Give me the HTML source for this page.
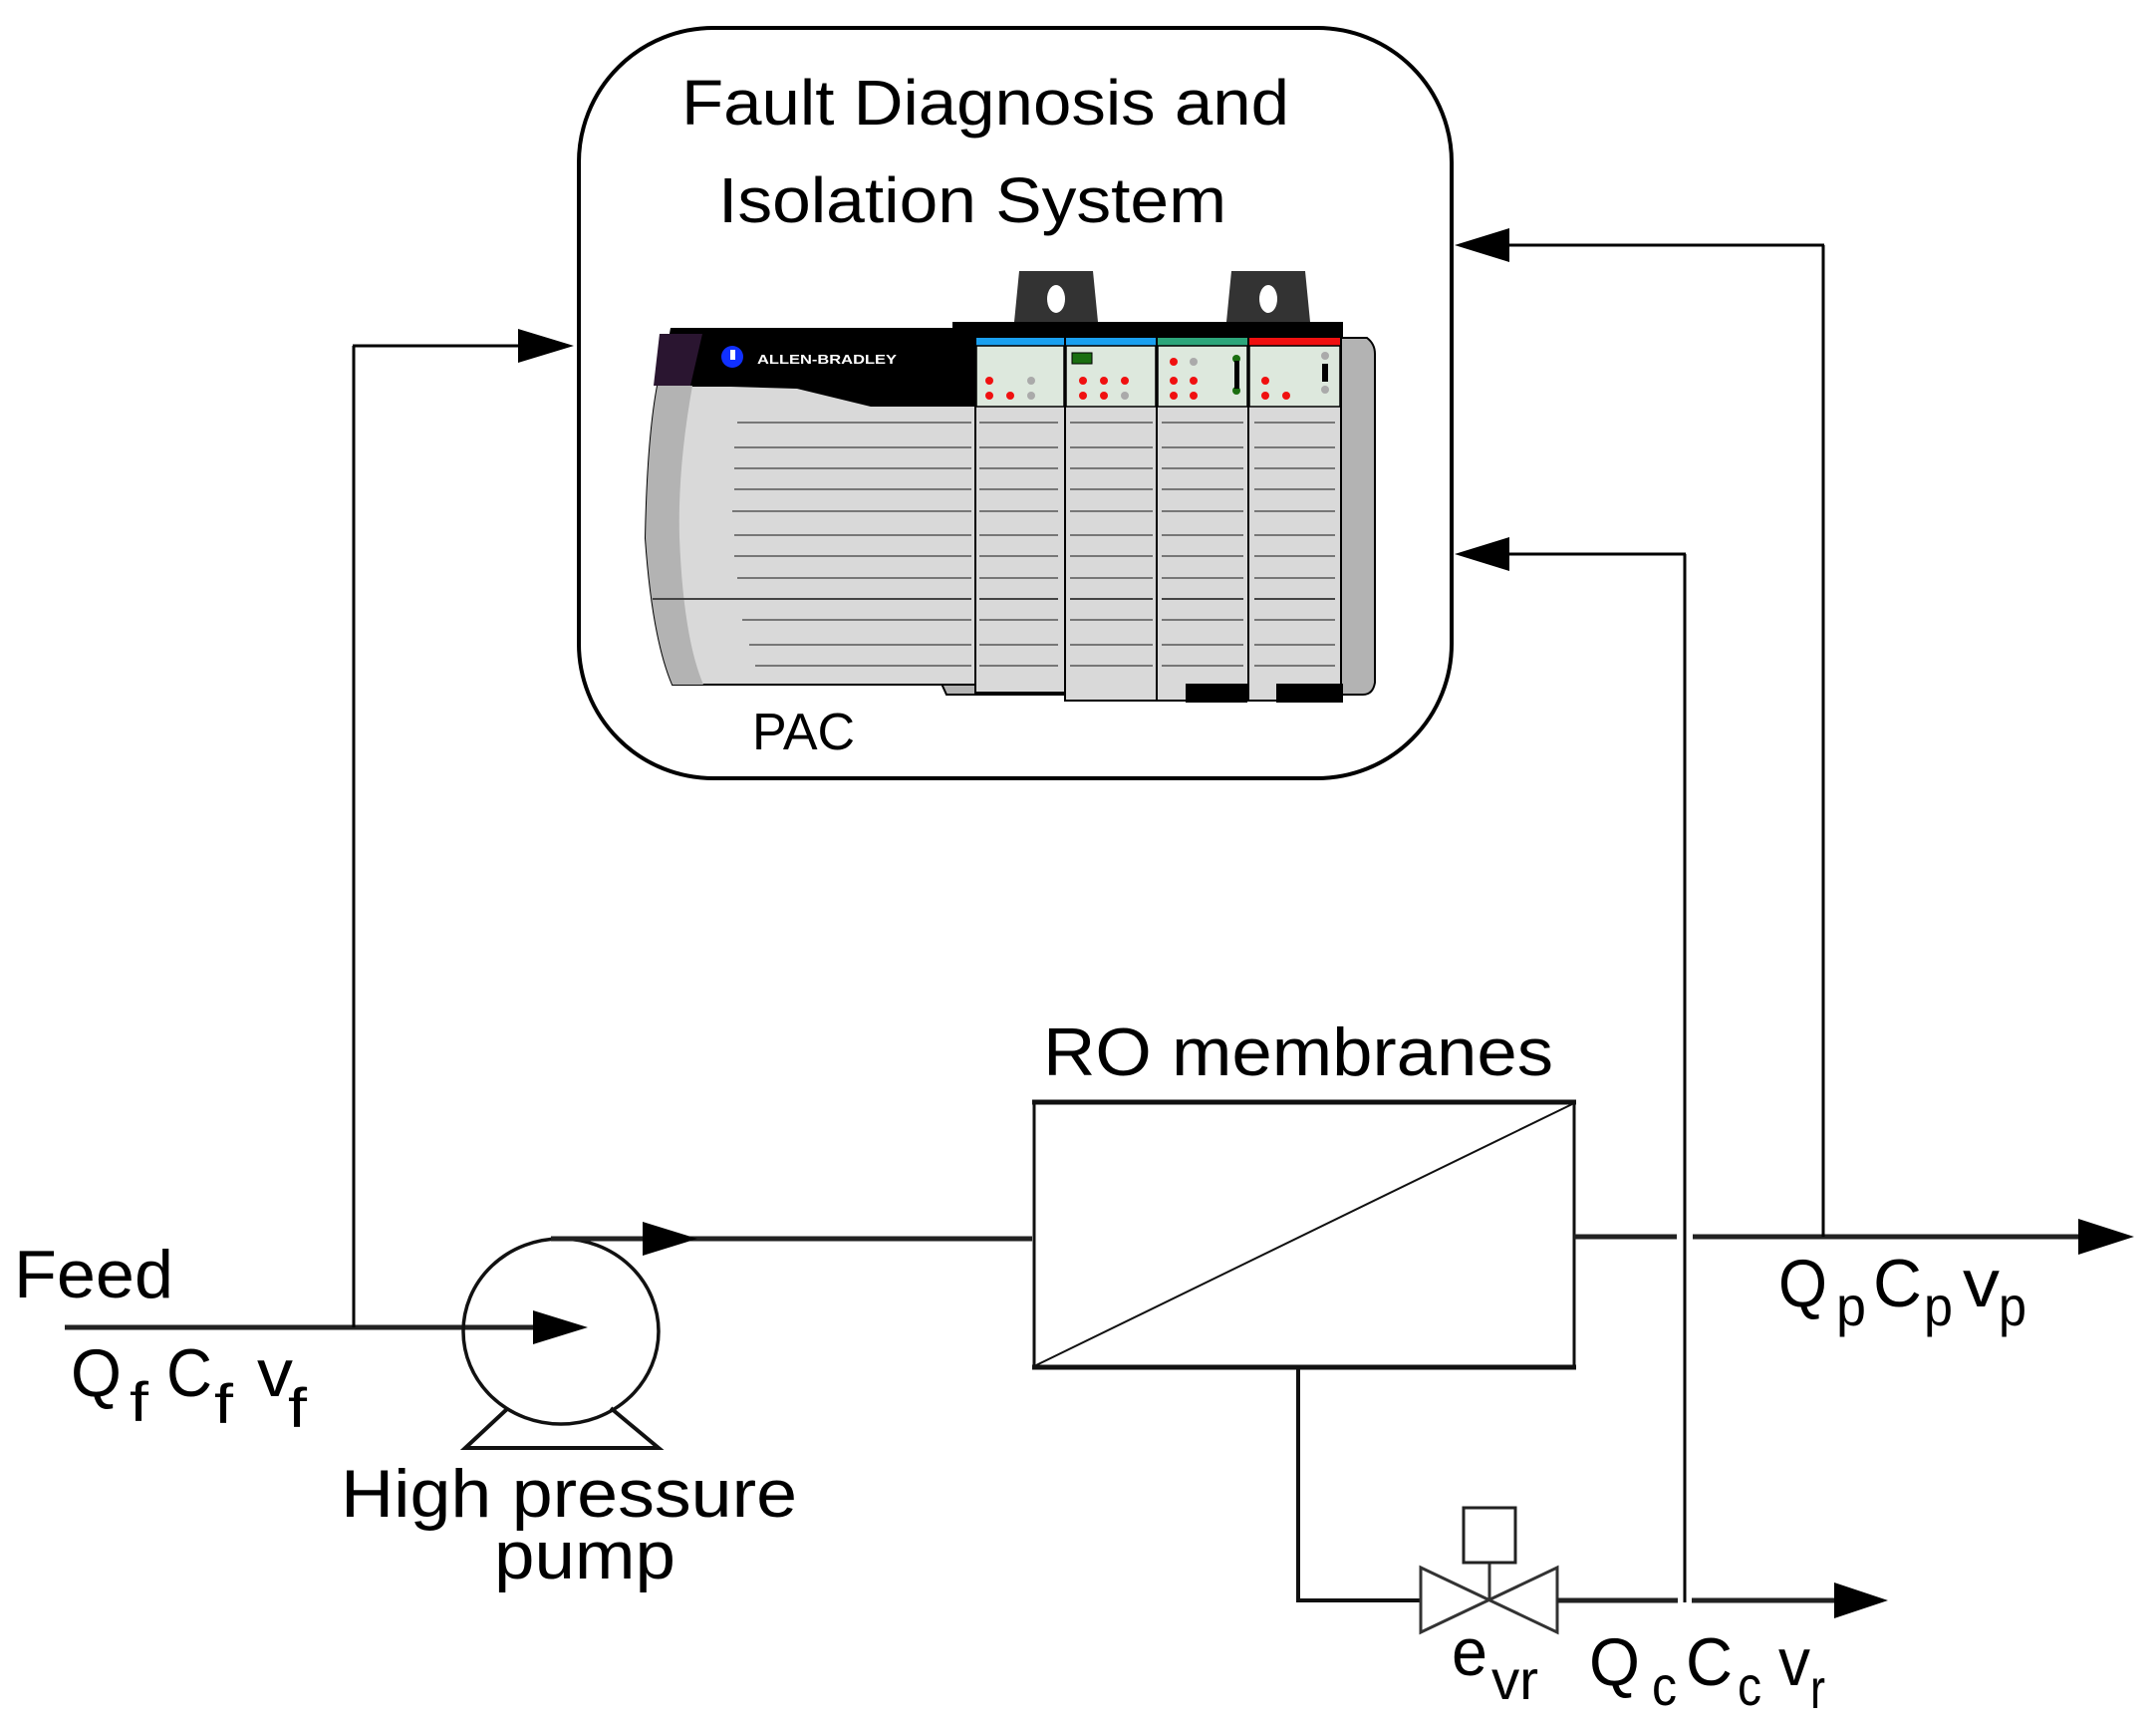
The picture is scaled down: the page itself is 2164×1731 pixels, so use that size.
<!DOCTYPE html>
<html><head><meta charset="utf-8"><style>
html,body{margin:0;padding:0;background:#fff;}
svg{display:block;}
text{font-family:"Liberation Sans",sans-serif;fill:#000;}
</style></head><body>
<svg width="2164" height="1731" viewBox="0 0 2164 1731" xmlns="http://www.w3.org/2000/svg">
<!-- FDI box -->
<rect x="581" y="28" width="876" height="753" rx="135" ry="135" fill="none" stroke="#000" stroke-width="4"/>
<text x="684" y="125" font-size="64" textLength="610" lengthAdjust="spacingAndGlyphs">Fault Diagnosis and</text>
<text x="721" y="223" font-size="64" textLength="510" lengthAdjust="spacingAndGlyphs">Isolation System</text>
<text x="755" y="752" font-size="52">PAC</text>

<!-- PLC -->
<g>
<path d="M1023,272 L1097,272 L1102,323 L1018,323 Z" fill="#333"/>
<path d="M1236,272 L1310,272 L1315,323 L1231,323 Z" fill="#333"/>
<ellipse cx="1060" cy="300" rx="9" ry="14" fill="#fff"/>
<ellipse cx="1273" cy="300" rx="9" ry="14" fill="#fff"/>
<path d="M1340,339 L1372,339 Q1380,345 1380,355 L1380,685 Q1378,697 1368,697 L1340,697 Z" fill="#b3b3b3" stroke="#000" stroke-width="2"/>
<path d="M945,686 L950,697 L1346,697 L1346,686 Z" fill="#b3b3b3" stroke="#000" stroke-width="2"/>
<path d="M660,387 L980,387 L980,687 L675,687 Q655,640 648,540 Q650,440 660,387 Z" fill="#d9d9d9" stroke="#000" stroke-width="2"/>
<path d="M660,387 L695,387 Q680,470 682,540 Q686,640 706,687 L675,687 Q655,640 648,540 Q650,440 660,387 Z" fill="#b3b3b3"/>
<path d="M673,329 L980,329 L980,408 L874,408 L800,390 L700,387 L663,387 Z" fill="#000"/>
<path d="M662,335 L705,335 L693,387 L656,387 Z" fill="#2a1530"/>
<circle cx="735" cy="358" r="11" fill="#1030ff"/>
<rect x="733" y="351" width="5" height="10" fill="#fff"/>
<text x="760" y="365" font-size="13" font-weight="bold" style="fill:#fff" textLength="140" lengthAdjust="spacingAndGlyphs">ALLEN-BRADLEY</text>
<rect x="956" y="323" width="392" height="16" fill="#000"/>
<g stroke="#000" stroke-width="2">
<rect x="979" y="338" width="90" height="357" fill="#d9d9d9"/>
<rect x="1069" y="338" width="92" height="365" fill="#d9d9d9"/>
<rect x="1161" y="338" width="92" height="365" fill="#d9d9d9"/>
<rect x="1253" y="338" width="93" height="365" fill="#d9d9d9"/>
</g>
<rect x="980" y="339" width="88" height="8" fill="#1aa0f0"/>
<rect x="1070" y="339" width="90" height="8" fill="#1aa0f0"/>
<rect x="1162" y="339" width="90" height="8" fill="#2ca57a"/>
<rect x="1254" y="339" width="91" height="8" fill="#f01010"/>
<g fill="#dde8dd" stroke="#000" stroke-width="1.5">
<rect x="980" y="347" width="88" height="61"/>
<rect x="1070" y="347" width="90" height="61"/>
<rect x="1162" y="347" width="90" height="61"/>
<rect x="1254" y="347" width="91" height="61"/>
</g>
<rect x="1076" y="354" width="20" height="11" fill="#1a6e10" stroke="#000"/>
<g fill="#f01010">
<circle cx="993" cy="382" r="4"/><circle cx="993" cy="397" r="4"/><circle cx="1014" cy="397" r="4"/>
<circle cx="1087" cy="382" r="4"/><circle cx="1108" cy="382" r="4"/><circle cx="1087" cy="397" r="4"/><circle cx="1108" cy="397" r="4"/><circle cx="1129" cy="382" r="4"/>
<circle cx="1178" cy="363" r="4"/><circle cx="1178" cy="382" r="4"/><circle cx="1198" cy="382" r="4"/><circle cx="1178" cy="397" r="4"/><circle cx="1198" cy="397" r="4"/>
<circle cx="1270" cy="382" r="4"/><circle cx="1270" cy="397" r="4"/><circle cx="1291" cy="397" r="4"/>
</g>
<g fill="#aaa">
<circle cx="1035" cy="382" r="4"/><circle cx="1035" cy="397" r="4"/><circle cx="1129" cy="397" r="4"/><circle cx="1198" cy="363" r="4"/><circle cx="1330" cy="357" r="4"/><circle cx="1330" cy="391" r="4"/>
</g>
<g fill="#1a6e10"><circle cx="1241" cy="360" r="4"/><circle cx="1241" cy="392" r="4"/></g>
<rect x="1239" y="362" width="5" height="28" fill="#000"/>
<rect x="1327" y="365" width="6" height="18" fill="#000"/>
<rect x="1190" y="686" width="62" height="19" fill="#000"/>
<rect x="1281" y="686" width="67" height="19" fill="#000"/>
<g stroke="#777" stroke-width="2">
<line x1="740" y1="424" x2="975" y2="424"/><line x1="737" y1="449" x2="975" y2="449"/>
<line x1="737" y1="470" x2="975" y2="470"/><line x1="737" y1="491" x2="975" y2="491"/>
<line x1="735" y1="513" x2="975" y2="513"/><line x1="737" y1="537" x2="975" y2="537"/>
<line x1="737" y1="558" x2="975" y2="558"/><line x1="740" y1="580" x2="975" y2="580"/>
<line x1="745" y1="622" x2="975" y2="622"/><line x1="752" y1="647" x2="975" y2="647"/>
<line x1="758" y1="668" x2="975" y2="668"/>
<line x1="655" y1="601" x2="975" y2="601" stroke="#444"/>
</g>
<g stroke="#777" stroke-width="2">
<path d="M983,424H1062M1074,424H1157M1166,424H1248M1259,424H1340
M983,449H1062M1074,449H1157M1166,449H1248M1259,449H1340
M983,470H1062M1074,470H1157M1166,470H1248M1259,470H1340
M983,491H1062M1074,491H1157M1166,491H1248M1259,491H1340
M983,513H1062M1074,513H1157M1166,513H1248M1259,513H1340
M983,537H1062M1074,537H1157M1166,537H1248M1259,537H1340
M983,558H1062M1074,558H1157M1166,558H1248M1259,558H1340
M983,580H1062M1074,580H1157M1166,580H1248M1259,580H1340
M983,622H1062M1074,622H1157M1166,622H1248M1259,622H1340
M983,647H1062M1074,647H1157M1166,647H1248M1259,647H1340
M983,668H1062M1074,668H1157M1166,668H1248M1259,668H1340"/>
<path d="M983,601H1062M1074,601H1157M1166,601H1248M1259,601H1340" stroke="#444"/>
</g>
</g>

<!-- Feed -->
<text x="14" y="1302" font-size="68" textLength="160" lengthAdjust="spacingAndGlyphs">Feed</text>
<line x1="65" y1="1332" x2="545" y2="1332" stroke="#222" stroke-width="5"/>
<polygon points="535,1315 590,1332 535,1349" fill="#000"/>
<g font-size="68">
<text x="71" y="1401" textLength="51" lengthAdjust="spacingAndGlyphs">Q</text>
<text x="130" y="1426" font-size="56" textLength="19" lengthAdjust="spacingAndGlyphs">f</text>
<text x="167" y="1401" textLength="46" lengthAdjust="spacingAndGlyphs">C</text>
<text x="215" y="1428" font-size="56" textLength="19" lengthAdjust="spacingAndGlyphs">f</text>
<text x="258" y="1401" textLength="36" lengthAdjust="spacingAndGlyphs">v</text>
<text x="289" y="1432" font-size="56" textLength="19" lengthAdjust="spacingAndGlyphs">f</text>
</g>

<!-- left signal -->
<line x1="355" y1="1332" x2="355" y2="347" stroke="#000" stroke-width="3"/>
<line x1="354" y1="347" x2="530" y2="347" stroke="#000" stroke-width="3"/>
<polygon points="520,330 576,347 520,364" fill="#000"/>

<!-- pump -->
<ellipse cx="563" cy="1336" rx="98" ry="93" fill="none" stroke="#111" stroke-width="3.5"/>
<polyline points="510,1413 467,1453 661,1453 613,1413" fill="none" stroke="#111" stroke-width="4"/>
<line x1="553" y1="1243" x2="1036" y2="1243" stroke="#222" stroke-width="5"/>
<polygon points="645,1226 700,1243 645,1260" fill="#000"/>
<text x="342" y="1522" font-size="68" textLength="458" lengthAdjust="spacingAndGlyphs">High pressure</text>
<text x="496" y="1584" font-size="68" textLength="182" lengthAdjust="spacingAndGlyphs">pump</text>

<!-- membrane -->
<text x="1047" y="1079" font-size="68" textLength="512" lengthAdjust="spacingAndGlyphs">RO membranes</text>
<rect x="1038" y="1106" width="542" height="266" fill="none" stroke="#111" stroke-width="3"/>
<line x1="1036" y1="1106" x2="1582" y2="1106" stroke="#111" stroke-width="5"/>
<line x1="1036" y1="1372" x2="1582" y2="1372" stroke="#111" stroke-width="5"/>
<line x1="1040" y1="1370" x2="1578" y2="1108" stroke="#111" stroke-width="2"/>

<!-- permeate -->
<line x1="1580" y1="1241" x2="1683" y2="1241" stroke="#222" stroke-width="5"/>
<line x1="1699" y1="1241" x2="2095" y2="1241" stroke="#222" stroke-width="5"/>
<polygon points="2086,1223 2142,1241 2086,1259" fill="#000"/>
<g font-size="68">
<text x="1785" y="1311" textLength="49" lengthAdjust="spacingAndGlyphs">Q</text>
<text x="1843" y="1330" font-size="56" textLength="30" lengthAdjust="spacingAndGlyphs">p</text>
<text x="1880" y="1311" textLength="49" lengthAdjust="spacingAndGlyphs">C</text>
<text x="1931" y="1330" font-size="56" textLength="29" lengthAdjust="spacingAndGlyphs">p</text>
<text x="1970" y="1311" textLength="37" lengthAdjust="spacingAndGlyphs">v</text>
<text x="2006" y="1330" font-size="56" textLength="28" lengthAdjust="spacingAndGlyphs">p</text>
</g>

<!-- signals right -->
<line x1="1830" y1="1241" x2="1830" y2="246" stroke="#000" stroke-width="3"/>
<line x1="1831" y1="246" x2="1505" y2="246" stroke="#000" stroke-width="3"/>
<polygon points="1515,229 1460,246 1515,263" fill="#000"/>
<line x1="1691" y1="1608" x2="1691" y2="556" stroke="#000" stroke-width="3"/>
<line x1="1692" y1="556" x2="1505" y2="556" stroke="#000" stroke-width="3"/>
<polygon points="1515,539 1460,556 1515,573" fill="#000"/>

<!-- concentrate -->
<polyline points="1303,1372 1303,1606 1425,1606" fill="none" stroke="#111" stroke-width="4"/>
<polygon points="1426,1573 1563,1638 1563,1573 1426,1638" fill="#fff" stroke="#333" stroke-width="3"/>
<line x1="1495" y1="1606" x2="1495" y2="1568" stroke="#333" stroke-width="3"/>
<rect x="1469" y="1513" width="52" height="55" fill="#fff" stroke="#222" stroke-width="3"/>
<line x1="1563" y1="1606" x2="1684" y2="1606" stroke="#222" stroke-width="5"/>
<line x1="1698" y1="1606" x2="1850" y2="1606" stroke="#222" stroke-width="5"/>
<polygon points="1841,1588 1895,1606 1841,1624" fill="#000"/>
<g font-size="68">
<text x="1457" y="1681" textLength="36" lengthAdjust="spacingAndGlyphs">e</text>
<text x="1497" y="1705" font-size="56" textLength="47" lengthAdjust="spacingAndGlyphs">vr</text>
<text x="1595" y="1691" textLength="51" lengthAdjust="spacingAndGlyphs">Q</text>
<text x="1658" y="1711" font-size="56" textLength="25" lengthAdjust="spacingAndGlyphs">c</text>
<text x="1692" y="1691" textLength="47" lengthAdjust="spacingAndGlyphs">C</text>
<text x="1744" y="1711" font-size="56" textLength="24" lengthAdjust="spacingAndGlyphs">c</text>
<text x="1785" y="1691" textLength="32" lengthAdjust="spacingAndGlyphs">v</text>
<text x="1817" y="1714" font-size="56" textLength="15" lengthAdjust="spacingAndGlyphs">r</text>
</g>
</svg>
</body></html>
